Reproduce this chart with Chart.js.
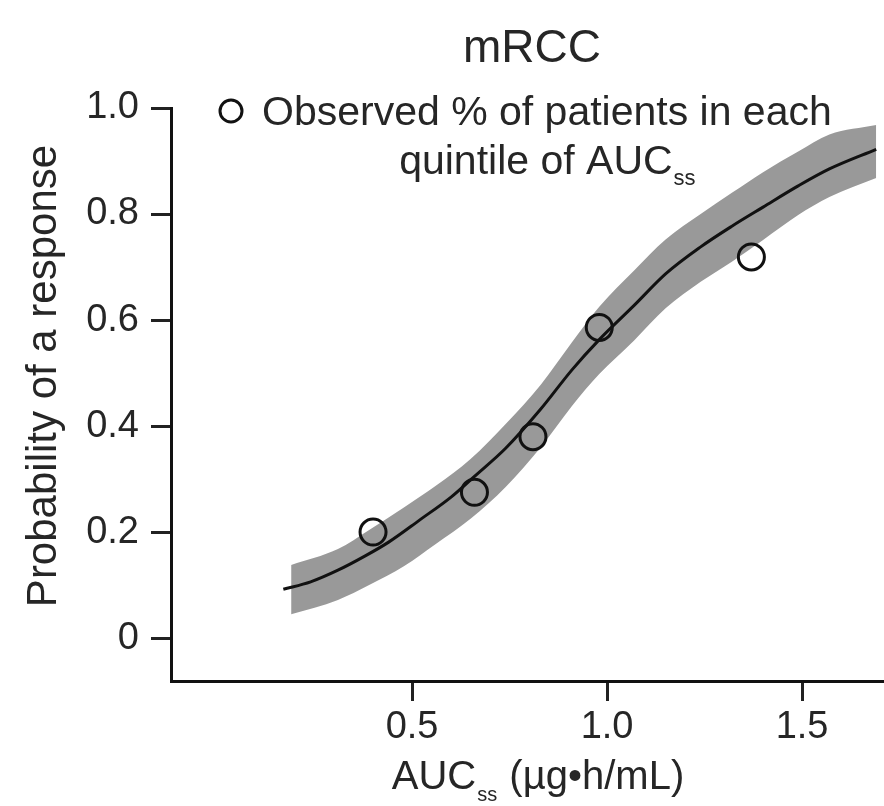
<!DOCTYPE html>
<html><head><meta charset="utf-8">
<script src="https://cdn.jsdelivr.net/npm/chart.js@4.4.1/dist/chart.umd.min.js"></script>
<style>html,body{margin:0;padding:0;background:#fff;overflow:hidden;}#wrap{width:884px;height:806px;}canvas{display:block;}</style>
</head><body><div id="wrap"><canvas id="c" width="884" height="806"></canvas></div>
<script>
// ---- data ----
const curveX = [0.17,0.24,0.31,0.38,0.44,0.52,0.60,0.66,0.74,0.83,0.91,0.98,1.07,1.15,1.24,1.32,1.40,1.49,1.57,1.69];
const curveY = [0.092,0.106,0.128,0.155,0.181,0.223,0.266,0.305,0.358,0.432,0.506,0.563,0.628,0.687,0.738,0.777,0.813,0.853,0.885,0.922];
const bandX = [0.19,0.31,0.39,0.48,0.56,0.65,0.74,0.83,0.91,0.98,1.07,1.15,1.24,1.32,1.40,1.49,1.57,1.69];
const bandUpper = [0.138,0.168,0.204,0.247,0.287,0.338,0.404,0.478,0.558,0.625,0.694,0.752,0.800,0.840,0.879,0.918,0.950,0.968];
const bandLower = [0.045,0.072,0.100,0.136,0.177,0.225,0.285,0.360,0.438,0.498,0.562,0.622,0.672,0.710,0.751,0.798,0.832,0.868];
const obsX = [0.40,0.66,0.81,0.98,1.37];
const obsY = [0.200,0.275,0.380,0.586,0.719];
const xTicks = [0.5,1.0,1.5];
const xTickLabels = ['0.5','1.0','1.5'];
const yTicks = [0,0.2,0.4,0.6,0.8,1.0];
const yTickLabels = ['0','0.2','0.4','0.6','0.8','1.0'];
const titleText = 'mRCC';
const yTitle = 'Probability of a response';
const legendLine1 = 'Observed % of patients in each';
const legendLine2 = 'quintile of AUC';
const subSS = 'ss';
const xTitleMain = 'AUC';
const xTitleRest = ' (\u00B5g\u2022h/mL)';

const pts = (xs, ys) => xs.map((x, i) => ({x: x, y: ys[i]}));
const FONT = '"Liberation Sans", Arial, Helvetica, sans-serif';
const TXT = '#262626';
const GRAY = '#999999';

const textPlugin = {
  id: 'texts',
  afterDraw(chart) {
    const ctx = chart.ctx;
    ctx.save();
    ctx.fillStyle = TXT;
    ctx.font = '46px ' + FONT;
    ctx.textAlign = 'center';
    ctx.textBaseline = 'alphabetic';
    ctx.fillText(titleText, 532, 62);
    ctx.save();
    ctx.translate(44, 376);
    ctx.rotate(-Math.PI / 2);
    ctx.font = '42px ' + FONT;
    ctx.textBaseline = 'middle';
    ctx.fillText(yTitle, 0, 0);
    ctx.restore();
    ctx.textAlign = 'left';
    ctx.font = '40px ' + FONT;
    const w1 = ctx.measureText(xTitleMain).width;
    const w3 = ctx.measureText(xTitleRest).width;
    ctx.font = '20px ' + FONT;
    const w2 = ctx.measureText(subSS).width;
    let x0 = 537 - (w1 + w2 + w3) / 2;
    ctx.font = '40px ' + FONT;
    ctx.fillText(xTitleMain, x0, 789);
    ctx.font = '20px ' + FONT;
    ctx.fillText(subSS, x0 + w1 + 1, 801);
    ctx.font = '40px ' + FONT;
    ctx.fillText(xTitleRest, x0 + w1 + w2 + 2, 789);
    ctx.beginPath();
    ctx.arc(231, 111, 11, 0, Math.PI * 2);
    ctx.lineWidth = 3;
    ctx.strokeStyle = '#111';
    ctx.stroke();
    ctx.font = '41px ' + FONT;
    ctx.fillText(legendLine1, 262, 125);
    const l1w = ctx.measureText(legendLine1).width;
    const cx = 262 + l1w / 2;
    const q1 = ctx.measureText(legendLine2).width;
    ctx.font = '22px ' + FONT;
    const q2 = ctx.measureText(subSS).width;
    const lx = cx - (q1 + q2) / 2;
    ctx.font = '41px ' + FONT;
    ctx.fillText(legendLine2, lx, 174);
    ctx.font = '22px ' + FONT;
    ctx.fillText(subSS, lx + q1 + 1, 185);
    ctx.restore();
  }
};

new Chart(document.getElementById('c'), {
  type: 'scatter',
  data: {
    datasets: [
      {data: pts(bandX, bandLower), showLine: true, pointRadius: 0, borderWidth: 0, borderColor: 'rgba(0,0,0,0)', fill: false, cubicInterpolationMode: 'monotone', order: 4},
      {data: pts(bandX, bandUpper), showLine: true, pointRadius: 0, borderWidth: 0, borderColor: 'rgba(0,0,0,0)', backgroundColor: GRAY, fill: '-1', cubicInterpolationMode: 'monotone', order: 3},
      {data: pts(curveX, curveY), showLine: true, pointRadius: 0, borderWidth: 3, borderColor: '#111', fill: false, cubicInterpolationMode: 'monotone', order: 2},
      {data: pts(obsX, obsY), showLine: false, pointRadius: 13, pointHoverRadius: 13, pointStyle: 'circle', borderWidth: 3, borderColor: '#111', backgroundColor: 'rgba(0,0,0,0)', order: 1}
    ]
  },
  options: {
    responsive: false,
    animation: false,
    devicePixelRatio: 1,
    layout: {autoPadding: false, padding: {top: 108, right: 0, bottom: 0, left: 0}},
    plugins: {legend: {display: false}, tooltip: {enabled: false}, title: {display: false}},
    scales: {
      x: {
        type: 'linear', min: -0.118, max: 1.71,
        afterBuildTicks: s => { s.ticks = xTicks.map(v => ({value: v})); },
        afterFit: s => { s.height = 125; s.paddingLeft = 0; s.paddingRight = 0; },
        ticks: {callback: v => xTickLabels[xTicks.indexOf(v)], font: {size: 38, family: FONT}, color: TXT, padding: 4, maxRotation: 0, autoSkip: false},
        grid: {drawOnChartArea: false, drawTicks: true, tickLength: 20, tickWidth: 3, tickColor: '#222'},
        border: {display: true, color: '#111', width: 3}
      },
      y: {
        type: 'linear', min: -0.081, max: 1.0,
        afterBuildTicks: s => { s.ticks = yTicks.map(v => ({value: v})); },
        afterFit: s => { s.width = 171; s.paddingTop = 0; s.paddingBottom = 0; },
        ticks: {callback: v => yTickLabels[yTicks.indexOf(v)], font: {size: 38, family: FONT}, color: TXT, padding: 12, autoSkip: false},
        grid: {drawOnChartArea: false, drawTicks: true, tickLength: 20, tickWidth: 3, tickColor: '#222'},
        border: {display: true, color: '#111', width: 3}
      }
    }
  },
  plugins: [textPlugin]
});
</script></body></html>
